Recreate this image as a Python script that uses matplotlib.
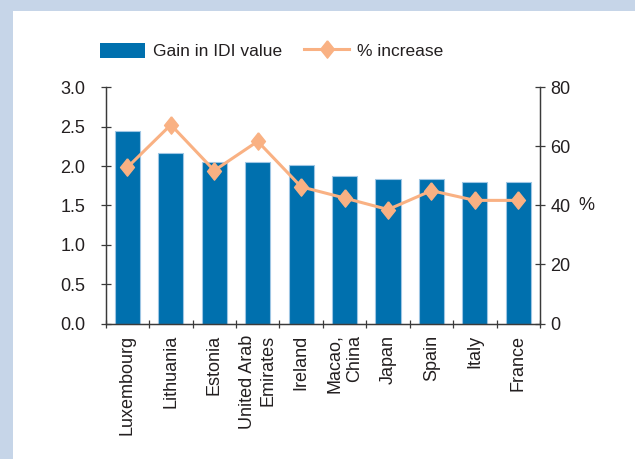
import matplotlib
matplotlib.use("Agg")
import matplotlib.pyplot as plt
import matplotlib.patches as mpatches
from matplotlib.lines import Line2D
import numpy as np

plt.rcParams['font.family'] = ['Liberation Sans', 'DejaVu Sans']

countries = ["Luxembourg", "Lithuania", "Estonia", "United Arab\nEmirates", "Ireland",
             "Macao,\nChina", "Japan", "Spain", "Italy", "France"]
gain_idi = [2.44, 2.16, 2.05, 2.05, 2.01, 1.87, 1.83, 1.83, 1.80, 1.80]
pct_increase = [52.9, 67.3, 51.8, 61.7, 46.3, 42.5, 38.6, 45.0, 41.7, 41.7]
left_ticks = [0.0, 0.5, 1.0, 1.5, 2.0, 2.5, 3.0]
right_ticks = [0, 20, 40, 60, 80]

BAR = '#0070ae'
LINE = '#f9b183'
TXT = '#231f20'
SP = '#3a3a3a'

W, H = 635, 459
fig = plt.figure(figsize=(W / 100, H / 100), dpi=100)
fig.patch.set_facecolor('#c6d5e8')
fig.patches.append(mpatches.Rectangle((12.5 / W, 0), 1, 1 - 11 / H, transform=fig.transFigure,
                                      facecolor='white', edgecolor='none', zorder=-10))

x0, x1 = 105.7 / W, 540 / W
y0, y1 = 1 - 323.5 / H, 1 - 87.3 / H
ax = fig.add_axes([x0, y0, x1 - x0, y1 - y0])
ax.set_facecolor('none')
ax2 = ax.twinx()

x = np.arange(len(countries))
ax.bar(x, gain_idi, width=0.58, color=BAR, edgecolor='#9ec6e4', linewidth=0.8, zorder=2)
ax.set_xlim(-0.5, len(countries) - 0.5)
ax.set_ylim(0, 3.0)
ax.set_yticks(left_ticks)
ax.set_yticklabels([f"{v:.1f}" for v in left_ticks])

ax.set_xticks(np.arange(-0.5, len(countries), 1.0))
ax.set_xticklabels([])
ax.set_xticks(x, minor=True)
ax.set_xticklabels(countries, minor=True, rotation=90, ha='center', va='top',
                   multialignment='right')
ax.tick_params(axis='x', which='major', direction='inout', length=6, width=0.9, color=SP)
ax.tick_params(axis='x', which='minor', length=0, pad=8, labelsize=13, labelcolor=TXT)
ax.tick_params(axis='y', direction='inout', length=7.2, width=0.9, color=SP, pad=11,
               labelsize=13, labelcolor=TXT)

ax2.plot(x, pct_increase, color=LINE, linewidth=2.2,
         marker=[(0, 1), (0.8, 0), (0, -1), (-0.8, 0), (0, 1)], markersize=12.5,
         markerfacecolor=LINE, markeredgecolor=LINE, zorder=3)
ax2.set_ylim(0, 80)
ax2.set_yticks(right_ticks)
ax2.tick_params(axis='y', direction='inout', length=7.2, width=0.9, color=SP, pad=4,
                labelsize=13, labelcolor=TXT)
ax2.text((578 - 105.7) / (540 - 105.7), 0.5, '%', transform=ax2.transAxes,
         ha='left', va='center', fontsize=13, color=TXT)

for a in (ax, ax2):
    a.spines['top'].set_visible(False)
    for s in ('left', 'right', 'bottom'):
        a.spines[s].set_color(SP)
        a.spines[s].set_linewidth(0.9)

handles = [mpatches.Patch(facecolor=BAR, edgecolor='none'),
           Line2D([0], [0], color=LINE, linewidth=2.2,
                  marker=[(0, 1), (0.8, 0), (0, -1), (-0.8, 0), (0, 1)], markersize=12.5,
                  markerfacecolor=LINE, markeredgecolor=LINE)]
fig.legend(handles, ["Gain in IDI value", "% increase"], loc='center',
           bbox_to_anchor=(271.5 / W, 1 - 51 / H), ncol=2, frameon=False,
           fontsize=12.5, handlelength=2.6, handleheight=1.0, handletextpad=0.45,
           columnspacing=1.3, labelcolor=TXT)

fig.savefig('out.png', dpi=100, facecolor=fig.get_facecolor())
